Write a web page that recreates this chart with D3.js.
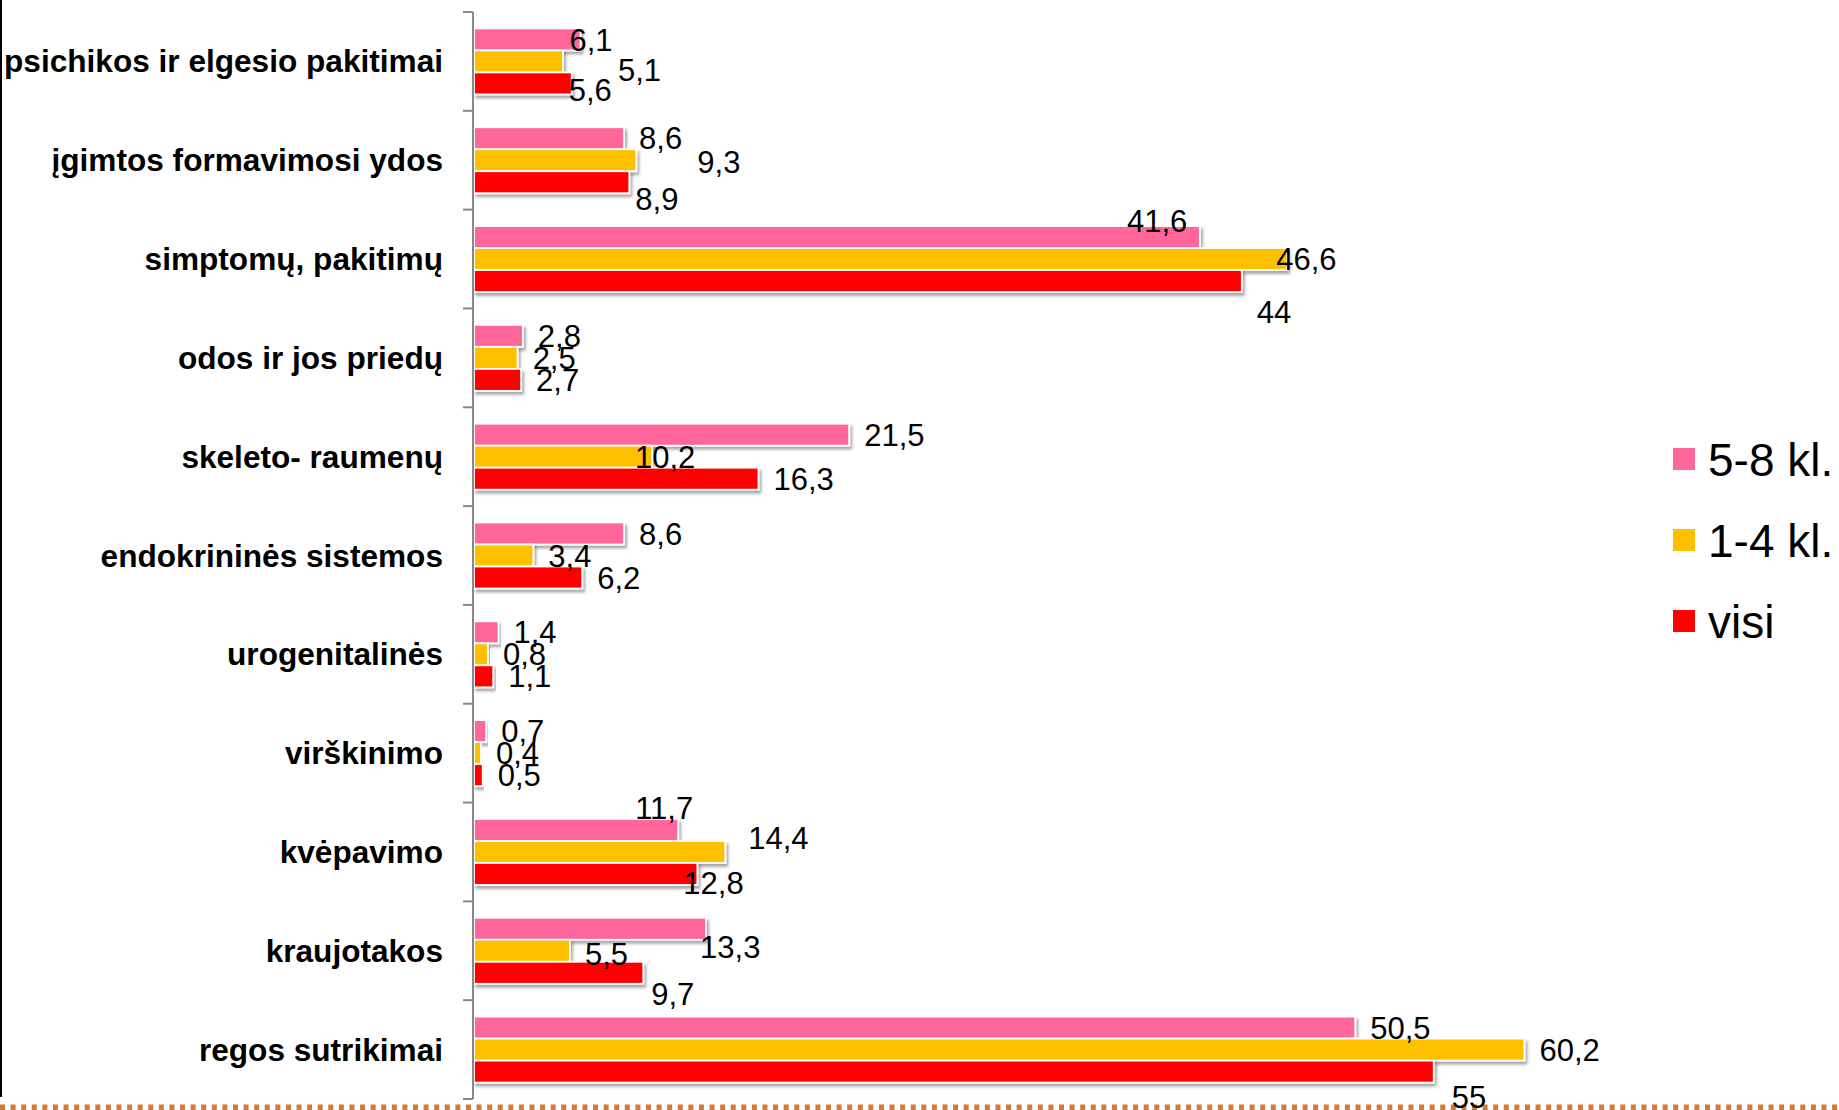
<!DOCTYPE html>
<html>
<head>
<meta charset="utf-8">
<script src="https://cdn.jsdelivr.net/npm/d3@7"></script>
<style>
  html, body { margin: 0; padding: 0; background: #fff; overflow: hidden; }
  svg { display: block; }
</style>
</head>
<body>
<svg id="chart" width="1839" height="1110"></svg>
<script>
// Diagnosis groups, listed top to bottom
const categories = [
  "psichikos ir elgesio pakitimai",
  "įgimtos formavimosi ydos",
  "simptomų, pakitimų",
  "odos ir jos priedų",
  "skeleto- raumenų",
  "endokrininės sistemos",
  "urogenitalinės",
  "virškinimo",
  "kvėpavimo",
  "kraujotakos",
  "regos sutrikimai"
];

const seriesNames = ["5-8 kl.", "1-4 kl.", "visi"];
const grade5to8 = [6.1, 8.6, 41.6, 2.8, 21.5, 8.6, 1.4, 0.7, 11.7, 13.3, 50.5];
const grade1to4 = [5.1, 9.3, 46.6, 2.5, 10.2, 3.4, 0.8, 0.4, 14.4, 5.5, 60.2];
const allPupils = [5.6, 8.9, 44, 2.7, 16.3, 6.2, 1.1, 0.5, 12.8, 9.7, 55];
const seriesColors = ["#ff6699", "#ffc000", "#ff0000"];

// Hand-placed label offsets [dx, dy] (category index, series index)
const labelNudges = {
  "0-0": [-26, 0], "0-1": [40, 8], "0-2": [-18, 6],
  "1-1": [46, 2], "1-2": [-9, 17],
  "2-0": [-88, -16], "2-1": [-26, 0], "2-2": [0, 31],
  "4-1": [-32, 0],
  "8-0": [-58, -22], "8-1": [8, -14], "8-2": [-29, 9],
  "9-0": [-21, 18], "9-1": [0, 3], "9-2": [-7, 21],
  "10-2": [3, 25]
};

const seriesValues = [grade5to8, grade1to4, allPupils];

const svg = d3.select("#chart");
const FONT = "'Liberation Sans', Arial, Helvetica, sans-serif";

// Soft shadow under each bar
const defs = svg.append("defs");
const shadow = defs.append("filter").attr("id", "barShadow")
  .attr("x", "-5%").attr("y", "-30%").attr("width", "115%").attr("height", "180%");
shadow.append("feDropShadow")
  .attr("dx", 2).attr("dy", 3).attr("stdDeviation", 1.8)
  .attr("flood-color", "#000").attr("flood-opacity", 0.35);

const x = d3.scaleLinear().domain([0, 70]).range([474, 474 + 70 * 17.45]);
const y = d3.scaleBand().domain(categories).range([12, 1099])
  .paddingInner(0.332).paddingOuter(0.166);
const ySeries = d3.scaleBand().domain(d3.range(seriesNames.length)).range([0, y.bandwidth()]);

const fmt = v => String(v).replace(".", ",");

// Frame line on the left edge
svg.append("rect").attr("x", 0).attr("y", 0).attr("width", 2).attr("height", 1097).attr("fill", "#000");

// Dotted rule at the bottom
svg.append("line")
  .attr("x1", 0).attr("x2", 1839).attr("y1", 1107.5).attr("y2", 1107.5)
  .attr("stroke", "#d27a3c").attr("stroke-width", 6)
  .attr("stroke-dasharray", "5 5.59");

// Bars
const groups = svg.append("g").selectAll("g.cat")
  .data(categories)
  .join("g").attr("class", "cat")
  .attr("transform", c => `translate(0,${y(c)})`);

groups.each(function (c, ci) {
  const g = d3.select(this);
  const rows = seriesValues.map((vals, si) => ({ si, v: vals[ci] }));
  g.selectAll("rect").data(rows).join("rect")
    .attr("x", x(0))
    .attr("y", d => ySeries(d.si))
    .attr("width", d => x(d.v) - x(0))
    .attr("height", ySeries.bandwidth())
    .attr("fill", d => seriesColors[d.si])
    .attr("stroke", "#fff").attr("stroke-width", 1.8)
    .attr("filter", "url(#barShadow)");
});

// Category axis: labels via d3.axisLeft, tick marks on band edges
const axisG = svg.append("g").attr("transform", `translate(${x(0) - 1},0)`)
  .call(d3.axisLeft(y).tickSize(0).tickPadding(30));
axisG.select(".domain").remove();
axisG.selectAll("text")
  .attr("font-family", FONT).attr("font-weight", "bold")
  .attr("font-size", 31.6).attr("fill", "#000").attr("dy", "0.35em");

const edges = categories.map(c => y(c) - y.step() * y.paddingInner() / 2);
edges.push(y(categories[categories.length - 1]) + y.bandwidth() + y.step() * y.paddingInner() / 2);
svg.append("line")
  .attr("x1", x(0) - 1).attr("x2", x(0) - 1)
  .attr("y1", edges[0]).attr("y2", edges[edges.length - 1])
  .attr("stroke", "#888").attr("stroke-width", 2);
svg.append("g").selectAll("line").data(edges).join("line")
  .attr("x1", x(0) - 11).attr("x2", x(0) - 1)
  .attr("y1", d => d).attr("y2", d => d)
  .attr("stroke", "#888").attr("stroke-width", 2);

// Value labels
const labels = [];
categories.forEach((c, ci) => {
  seriesValues.forEach((vals, si) => {
    const n = labelNudges[`${ci}-${si}`] || [0, 0];
    labels.push({
      v: vals[ci],
      px: x(vals[ci]) + 15 + n[0],
      py: y(c) + ySeries(si) + ySeries.bandwidth() / 2 + n[1]
    });
  });
});
svg.append("g").selectAll("text").data(labels).join("text")
  .attr("x", d => d.px).attr("y", d => d.py).attr("dy", "0.36em")
  .attr("font-family", FONT).attr("font-size", 31).attr("fill", "#000")
  .text(d => fmt(d.v));

// Legend
const legend = svg.append("g").selectAll("g").data(seriesNames).join("g")
  .attr("transform", (d, i) => `translate(1673,${459 + i * 81})`);
legend.append("rect")
  .attr("x", 0).attr("y", -11).attr("width", 22).attr("height", 22)
  .attr("fill", (d, i) => seriesColors[i]);
legend.append("text")
  .attr("x", 35).attr("y", 0).attr("dy", "0.36em")
  .attr("font-family", FONT).attr("font-size", 46).attr("fill", "#000")
  .text(d => d);
</script>
</body>
</html>
